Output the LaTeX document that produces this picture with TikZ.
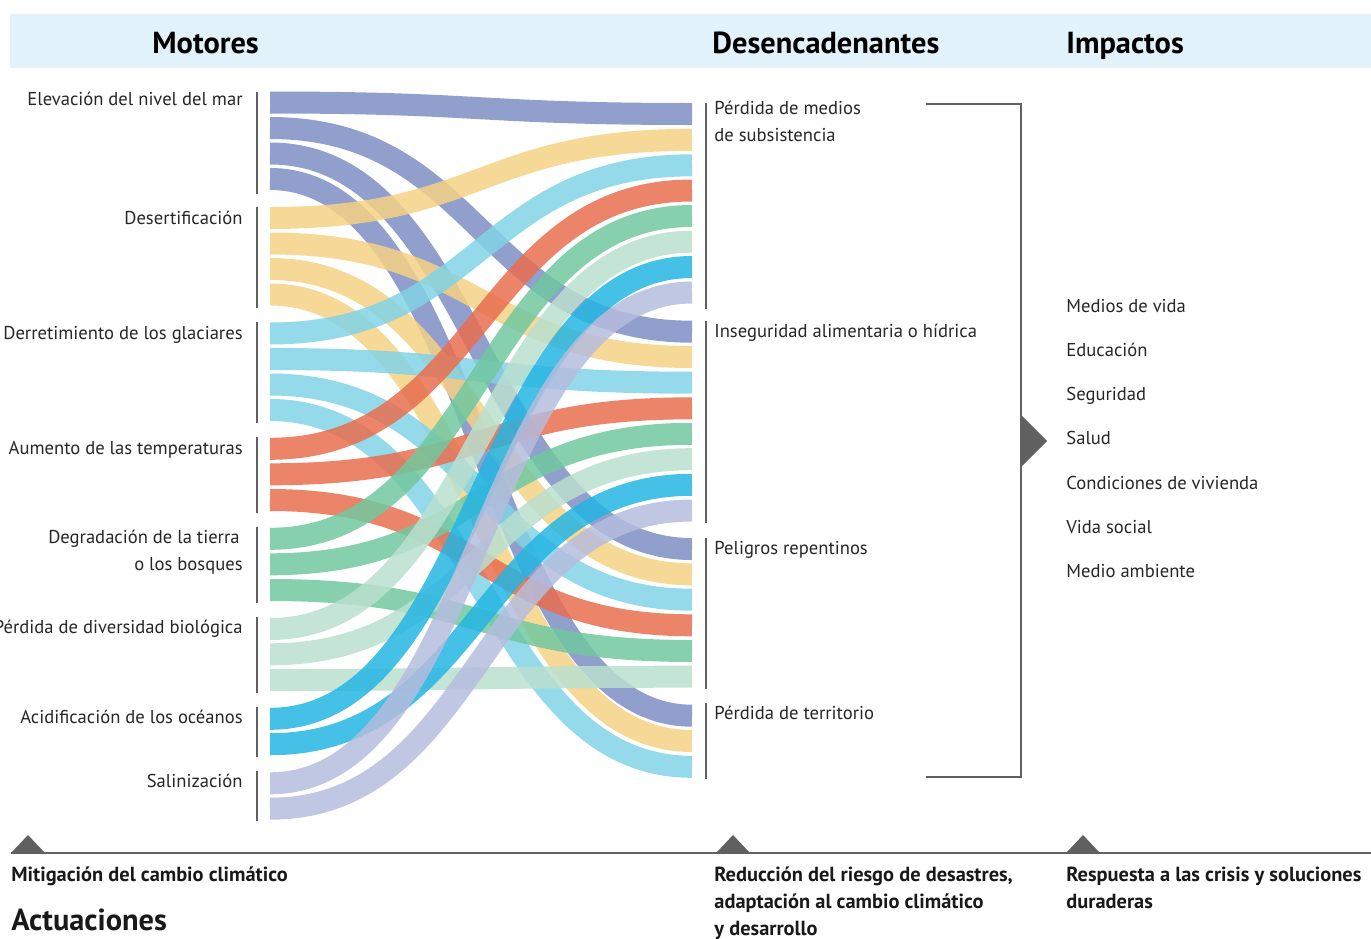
\documentclass[tikz,border=0pt]{standalone}
\usepackage{fontspec}
\setmainfont{PT Sans}
\usepackage{tikz}
\usetikzlibrary{calc}

\definecolor{sea}{HTML}{7C8EC3}
\definecolor{desert}{HTML}{F4D185}
\definecolor{glacier}{HTML}{82D3E6}
\definecolor{heat}{HTML}{E96E4F}
\definecolor{soil}{HTML}{71C8A0}
\definecolor{biodiv}{HTML}{BADFCF}
\definecolor{ocean}{HTML}{24B5E2}
\definecolor{salt}{HTML}{B5BDDD}
\definecolor{rule}{HTML}{606060}
\definecolor{headband}{HTML}{E1F2FA}

\tikzset{band/.style = { line width = 11pt, opacity = 0.85 }}
\tikzset{bar/.style = { rule, line width = 1pt }}
\tikzset{motor/.style = { anchor = base east, inner sep = 0pt, align = right, text = black!85,
	font = \fontsize{9.3}{13.5}\selectfont }}
\tikzset{trigger/.style = { anchor = base west, inner sep = 0pt, align = left, text = black!85,
	font = \fontsize{9.3}{13.5}\selectfont }}
\tikzset{title/.style = { anchor = base west, inner sep = 0pt, font = \fontsize{15.2}{17}\selectfont\bfseries }}
\tikzset{action/.style = { anchor = base west, inner sep = 0pt, align = left, text = black!90,
	font = \fontsize{10.2}{13.5}\selectfont\bfseries }}

\begin{document}
\begin{tikzpicture}[x = 0.5pt, y = -0.5pt]
	\useasboundingbox (0, 0) rectangle (1371, 938);

	% Header.
	\fill [headband] (10, 14) rectangle (1371, 68);
	\node [title] (motores) at (152, 53) {Motores};
	\node [title] (desenc) at (712, 53) {Desencadenantes};
	\node [title] (impactos) at (1066, 53) {Impactos};

	% Flows, one per driver and trigger.
	\foreach \s/\t/\c [count = \i] in {
			102.5/114/sea, 128/331.7/sea, 153.5/549/sea, 179/715.7/sea,
			218/139.8/desert, 243.5/357/desert, 269/574.3/desert, 294.5/741/desert,
			333.5/165.3/glacier, 359/382.7/glacier, 384.5/599.7/glacier, 410/766.8/glacier,
			448.8/190.5/heat, 474.3/408.3/heat, 500/625.3/heat,
			538.8/216/soil, 564.3/433.8/soil, 590/651/soil,
			629/241.7/biodiv, 654.3/459.2/biodiv, 680/676.7/biodiv,
			718.8/267/ocean, 744.2/484.8/ocean,
			783.3/292.5/salt, 808.7/510.5/salt} {
		\coordinate (s\i) at (270, \s);
		\coordinate (t\i) at (692, \t);
		\draw [band, \c] (s\i)
			.. controls +(211, 0) and +(-211, 0) .. (t\i);
	}

	% Drivers.
	\draw [bar] (257, 92) to (257, 194);
	\draw [bar] (257, 207) to (257, 308);
	\draw [bar] (257, 322) to (257, 423);
	\draw [bar] (257, 437) to (257, 513);
	\draw [bar] (257, 527) to (257, 603);
	\draw [bar] (257, 617) to (257, 693);
	\draw [bar] (257, 707) to (257, 757);
	\draw [bar] (257, 771) to (257, 821);

	\node [motor] (elev) at (243, 105) {Elevación del nivel del mar};
	\node [motor] (desert) at (243, 224) {Desertificación};
	\node [motor] (glacier) at (243, 339) {Derretimiento de los glaciares};
	\node [motor] (temp) at (243, 454) {Aumento de las temperaturas};
	\node [motor] (degr) at (243, 570) {Degradación de la tierra\hspace*{1.5pt}\\o los bosques};
	\node [motor] (biod) at (243, 633) {Pérdida de diversidad biológica};
	\node [motor] (acid) at (243, 723) {Acidificación de los océanos};
	\node [motor] (salin) at (243, 787) {Salinización};

	% Triggers.
	\draw [bar] (706, 103) to (706, 309);
	\draw [bar] (706, 321) to (706, 523);
	\draw [bar] (706, 538) to (706, 689);
	\draw [bar] (706, 703) to (706, 779);

	\node [trigger] (medios) at (714, 141) {Pérdida de medios\\de subsistencia};
	\node [trigger] (insegur) at (714, 337) {Inseguridad alimentaria o hídrica};
	\node [trigger] (peligros) at (714, 554) {Peligros repentinos};
	\node [trigger] (territ) at (714, 719) {Pérdida de territorio};

	% Bracket.
	\coordinate (b1) at (926, 104);
	\coordinate (b2) at (926, 777);
	\draw [bar] (b1) -| (1021, 777) -- (b2);
	\fill [rule] (1021, 415)
		to (1047, 441)
		to (1021, 467)
		to cycle;

	% Impacts.
	\foreach \txt [count = \k] in {Medios de vida, Educación, Seguridad, Salud,
			Condiciones de vivienda, Vida social, Medio ambiente}
		\node [trigger] (imp\k) at (1066, 312 + 44.3 * \k - 44.3) {\txt};

	% Actions.
	\draw [rule, line width = 1.15pt] (11, 853) to (1371, 853);
	\foreach \m in {28, 733, 1083}
		\fill [rule] (\m - 17, 853) to (\m, 835) to (\m + 17, 853) to cycle;

	\node [action] (mitig) at (11, 881) {Mitigación del cambio climático};
	\node [action, font = \fontsize{15.2}{17}\selectfont\bfseries] (actu) at (11, 930) {Actuaciones};
	\node [action] (reduc) at (714, 935) {Reducción del riesgo de desastres,\\adaptación al cambio climático\\y desarrollo};
	\node [action] (resp) at (1066, 908) {Respuesta a las crisis y soluciones\\duraderas};
\end{tikzpicture}
\end{document}
